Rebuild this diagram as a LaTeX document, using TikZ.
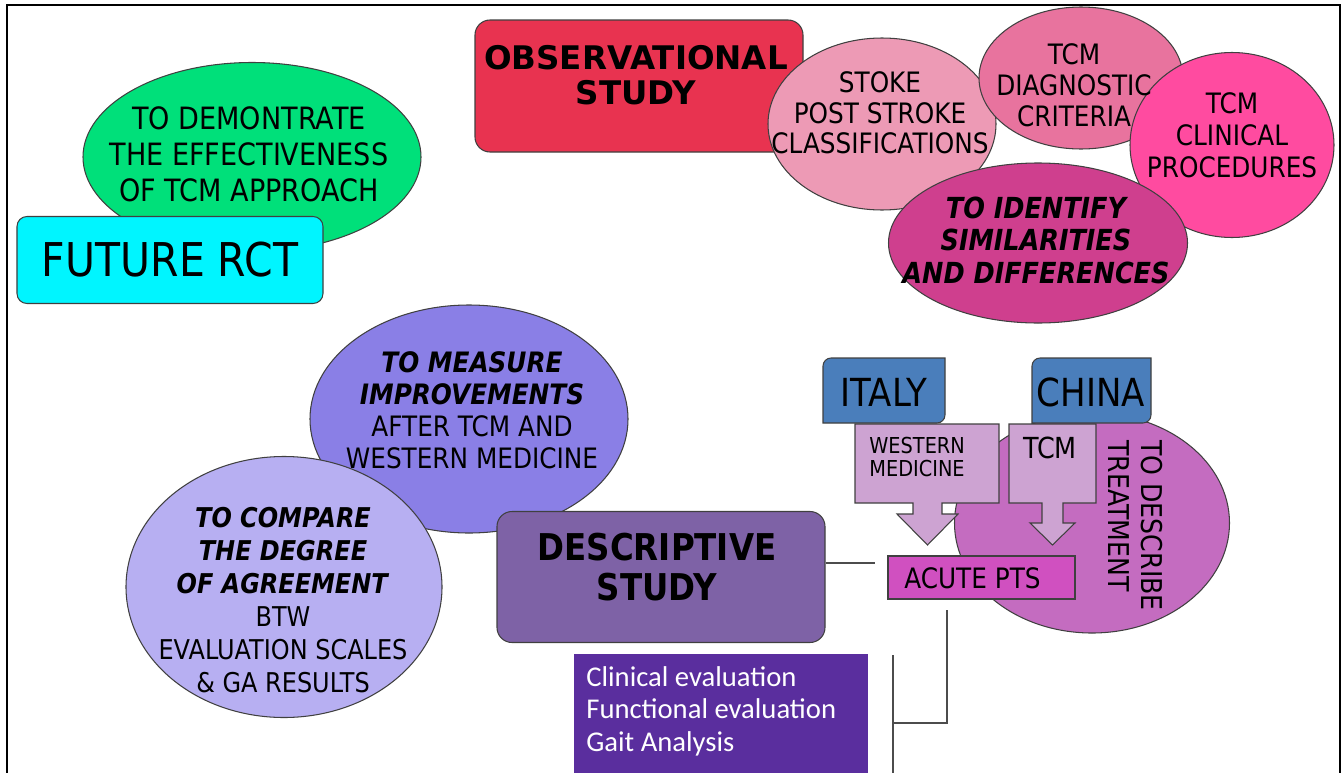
\documentclass[tikz,border=0pt]{standalone}
\usepackage{fontspec}
\setmainfont{DejaVu Sans}[FakeStretch=0.88]
\newfontfamily\widefont{DejaVu Sans}
\newfontfamily\calibfont{Carlito}
\usepackage{tikz}
\usetikzlibrary{shapes.geometric, calc, positioning}

\newcommand{\setfs}[2]{\fontsize{#1}{#2}\selectfont}

\definecolor{rctgreen}{RGB}{0,224,122}
\definecolor{rctcyan}{RGB}{0,245,255}
\definecolor{obsred}{RGB}{232,51,80}
\definecolor{strokepink}{RGB}{237,154,181}
\definecolor{diagpink}{RGB}{232,115,158}
\definecolor{clinpink}{RGB}{255,75,160}
\definecolor{identpink}{RGB}{207,63,142}
\definecolor{measureblue}{RGB}{138,127,230}
\definecolor{compareblue}{RGB}{183,175,242}
\definecolor{descpurple}{RGB}{126,98,166}
\definecolor{evalpurple}{RGB}{90,46,158}
\definecolor{flagblue}{RGB}{74,126,187}
\definecolor{treatorchid}{RGB}{196,108,192}
\definecolor{arrowpink}{RGB}{205,163,210}
\definecolor{acutemagenta}{RGB}{208,80,192}

\begin{document}
\begin{tikzpicture}[x=0.2mm, y=-0.2mm,
    blob/.style={ellipse, draw=black!75, line width=0.6pt, inner sep=0pt},
    roundbox/.style={rectangle, rounded corners=3mm, draw=black!75, line width=0.6pt, inner sep=0pt},
    flatbox/.style={rectangle, draw=black!75, line width=0.6pt, inner sep=0pt},
    flag/.style={fill=flagblue, draw=black!75, line width=0.6pt},
    medarrow/.style={fill=arrowpink, draw=black!75, line width=0.6pt},
    txt/.style={align=center, inner sep=0pt},
    link/.style={draw=black!70, line width=0.6pt}]
    \useasboundingbox (0,0) rectangle (1342,773);

    % frame
    \draw[line width=1.2pt] (7,773) -- (7,5) -- (1340,5) -- (1340,773);

    % future rct
    \node[blob, fill=rctgreen, minimum width=67.6mm, minimum height=37.8mm] (aim) at (252,157) {};
    \node[txt, font=\setfs{17.5}{20.5}] (aimtxt) at (249,154) {TO DEMONTRATE\\THE EFFECTIVENESS\\ OF TCM APPROACH};
    \node[roundbox, rounded corners=2mm, fill=rctcyan, minimum width=61.2mm, minimum height=17.4mm, font=\setfs{26.5}{30}] (rct) at (170,260) {FUTURE RCT};

    % observational study
    \node[roundbox, fill=obsred, minimum width=65.6mm, minimum height=26.4mm] (obs) at (639,86) {};
    \node[blob, fill=strokepink, minimum width=45.6mm, minimum height=34.4mm] (stroke) at (882,124) {};
    \node[txt, font=\widefont\bfseries\setfs{18.5}{20}] (obstxt) at (636,75) {OBSERVATIONAL\\STUDY};
    \node[txt, font=\setfs{16}{17.4}] (stroketxt) at (880,113) {STOKE\\POST STROKE\\CLASSIFICATIONS};
    \node[blob, fill=diagpink, minimum width=40.8mm, minimum height=28.4mm] (diag) at (1081,78) {};
    \node[blob, fill=clinpink, minimum width=40.8mm, minimum height=37mm] (clin) at (1232,145) {};
    \node[txt, font=\setfs{16}{17.6}] (diagtxt) at (1074,85) {TCM\\DIAGNOSTIC\\CRITERIA};
    \node[txt, font=\setfs{16}{18.2}] (clintxt) at (1232,135) {TCM\\CLINICAL\\PROCEDURES};
    \node[blob, fill=identpink, minimum width=59.8mm, minimum height=32mm] (ident) at (1038,243) {};
    \node[txt, font=\bfseries\itshape\setfs{16.5}{18.5}] (identtxt) at (1036,240) {TO IDENTIFY\\SIMILARITIES\\AND DIFFERENCES};

    % descriptive study
    \node[blob, fill=measureblue, minimum width=63.6mm, minimum height=45.6mm] (measure) at (469,419) {};
    \node[txt, font=\setfs{16}{18.2}] (measuretxt) at (472,410) {\textbf{\textit{TO MEASURE}}\\\textbf{\textit{IMPROVEMENTS}}\\AFTER TCM AND\\WESTERN MEDICINE};
    \node[blob, fill=compareblue, minimum width=63.2mm, minimum height=52.2mm] (compare) at (284,587) {};
    \node[txt, font=\setfs{15.5}{18.8}] (comparetxt) at (283,600) {\textbf{\textit{TO COMPARE}}\\\textbf{\textit{THE DEGREE}}\\\textbf{\textit{OF AGREEMENT}}\\BTW\\EVALUATION SCALES\\\& GA RESULTS};
    \node[roundbox, fill=descpurple, minimum width=65.6mm, minimum height=26.2mm] (desc) at (661,577) {};
    \node[txt, font=\bfseries\setfs{21}{22.8}] (desctxt) at (657,567) {DESCRIPTIVE\\STUDY};
    \node[rectangle, fill=evalpurple, inner sep=0pt, minimum width=58.8mm, minimum height=23.8mm] (eval) at (721,713.5) {};
    \node[inner sep=0pt, align=left, anchor=west, text=white, font=\calibfont\setfs{16.3}{18.5}] (evaltxt) at (586,711) {Clinical evaluation\\Functional evaluation\\Gait Analysis};

    % italy / china
    \node[blob, fill=treatorchid, minimum width=55mm, minimum height=44mm] (treat) at (1092,523) {};
    \node[txt, rotate=-90, anchor=north west, align=left, font=\setfs{16.3}{18.8}] (treattxt) at (1163,440) {TO DESCRIBE\\TREATMENT};
    \draw[flag] (823,423) -- (823,366) arc[start angle=180, end angle=270, radius=8] -- (945,358) -- (945,415) arc[start angle=0, end angle=90, radius=8] -- cycle;
    \node[txt, font=\setfs{22}{24}] (italy) at (884,392) {ITALY};
    \draw[flag] (1032,423) -- (1032,366) arc[start angle=180, end angle=270, radius=8] -- (1151,358) -- (1151,415) arc[start angle=0, end angle=90, radius=8] -- cycle;
    \node[txt, font=\setfs{22}{24}] (china) at (1091,392) {CHINA};
    \draw[medarrow] (855,424) -- (999,424) -- (999,503) -- (942,503) -- (942,514) -- (958,514) -- (927.5,545) -- (897,514) -- (913,514) -- (913,503) -- (855,503) -- cycle;
    \node[inner sep=0pt, align=left, anchor=north west, font=\setfs{12.5}{13}] (western) at (869,437) {WESTERN\\MEDICINE};
    \draw[medarrow] (1009,424) -- (1096,424) -- (1096,503) -- (1063,503) -- (1063,523) -- (1075,523) -- (1052.5,545) -- (1030,523) -- (1042,523) -- (1042,503) -- (1009,503) -- cycle;
    \node[txt, font=\setfs{16.5}{18}] (tcm) at (1050,448) {TCM};
    \node[flatbox, fill=acutemagenta, minimum width=37.4mm, minimum height=8.6mm] (acute) at (981.5,577.5) {};
    \node[inner sep=0pt, anchor=west, font=\setfs{16}{18}] (acutetxt) at (904,578) {ACUTE PTS};

    % connectors
    \coordinate (gapend) at (875,563);
    \coordinate (acutefoot) at (947,610);
    \coordinate (join) at (893,723);
    \coordinate (evaltop) at (893,655);
    \draw[link] (desc.east |- gapend) -- (gapend);
    \draw[link] (acutefoot) |- (join);
    \draw[link] (evaltop) -- (eval.south -| evaltop);
\end{tikzpicture}
\end{document}
